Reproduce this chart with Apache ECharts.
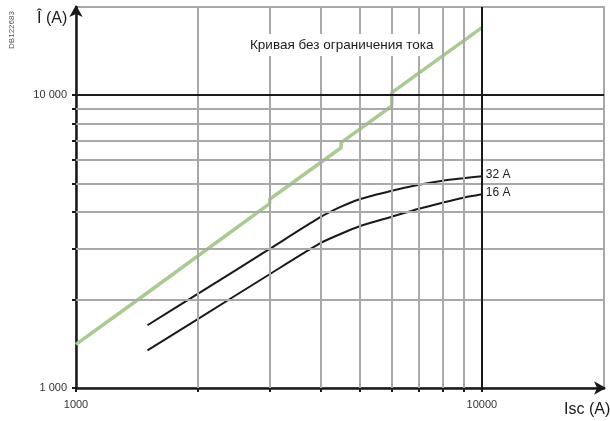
<!DOCTYPE html>
<html>
<head>
<meta charset="utf-8">
<script src="https://cdn.jsdelivr.net/npm/echarts@6/dist/echarts.min.js"></script>
<style>
html,body{margin:0;padding:0;background:#fff;}
#main{width:610px;height:421px;}
</style>
</head>
<body>
<div id="main"></div>
<script>
// ---- data ----
const tickValues = [1000, 2000, 3000, 4000, 5000, 6000, 7000, 8000, 9000, 10000];
const minorGrid = [2000, 3000, 4000, 5000, 6000, 7000, 8000, 9000];
const majorGrid = [10000];
const xLabelValues = [1000, 10000];
const yLabelValues = [1000, 10000];
const yLabelText = {1000: '1 000', 10000: '10 000'};

const unlimitedIsc  = [1000, 1500, 1500, 3000, 3000, 4500, 4500, 6000, 6000, 10000];
const unlimitedPeak = [1410, 2115, 2130, 4260, 4410, 6615, 6885, 9180, 10200, 17000];

const iscPoints = [1500, 2000, 3000, 4000, 4500, 5000, 6000, 7000, 8000, 9000, 10000];
const peak32 = [1638, 2100, 2985, 3830, 4160, 4413, 4718, 4947, 5104, 5205, 5288];
const peak16 = [1345, 1723, 2446, 3122, 3364, 3568, 3845, 4095, 4294, 4466, 4589];

const curveTitle = 'Кривая без ограничения тока';
const font = '"Liberation Sans", Arial, sans-serif';

const zip = (a, b) => a.map((v, i) => [v, b[i]]);

const chart = echarts.init(document.getElementById('main'));

const gridLines = [];
minorGrid.forEach(v => {
  gridLines.push({xAxis: v, lineStyle: {color: '#a9a9a9', width: 2, type: 'solid'}});
  gridLines.push({yAxis: v, lineStyle: {color: '#a9a9a9', width: 2, type: 'solid'}});
});
majorGrid.forEach(v => {
  gridLines.push({xAxis: v, lineStyle: {color: '#1a1a1a', width: 2, type: 'solid'}});
  gridLines.push({yAxis: v, lineStyle: {color: '#1a1a1a', width: 2, type: 'solid'}});
});

const axisCommon = {
  type: 'log',
  logBase: 10,
  min: 1000,
  max: 20000,
  splitLine: {show: false},
  minorSplitLine: {show: false},
  axisLine: {
    show: true,
    lineStyle: {color: '#1a1a1a', width: 2.5},
    symbol: ['none', 'arrow'],
    symbolSize: [10, 12],
    symbolOffset: [0, 2]
  },
  axisTick: {
    show: true,
    customValues: tickValues,
    length: 4,
    lineStyle: {color: '#1a1a1a', width: 2}
  }
};

chart.setOption({
  animation: false,
  backgroundColor: '#fff',
  grid: {
    left: 76, right: 6, top: 7, bottom: 33,
    show: true, borderColor: '#a9a9a9', borderWidth: 2, backgroundColor: 'transparent'
  },
  xAxis: Object.assign({}, axisCommon, {
    axisLabel: {
      customValues: xLabelValues,
      formatter: v => String(v),
      color: '#333', fontSize: 11, fontFamily: font, margin: 11
    }
  }),
  yAxis: Object.assign({}, axisCommon, {
    axisLabel: {
      customValues: yLabelValues,
      formatter: v => yLabelText[v] || String(v),
      color: '#333', fontSize: 11, fontFamily: font, margin: 9
    }
  }),
  series: [
    {
      name: 'grid',
      type: 'line',
      data: [],
      z: 1,
      silent: true,
      markLine: {
        silent: true,
        symbol: ['none', 'none'],
        label: {show: false},
        animation: false,
        data: gridLines
      }
    },
    {
      name: curveTitle,
      type: 'line',
      z: 3,
      data: zip(unlimitedIsc, unlimitedPeak),
      showSymbol: false,
      lineStyle: {color: '#a6cc8f', width: 3.5},
      clip: false
    },
    {
      name: '32 A',
      type: 'line',
      z: 3,
      data: zip(iscPoints, peak32),
      showSymbol: false,
      smooth: 0.25,
      lineStyle: {color: '#1a1a1a', width: 2},
      endLabel: {show: true, formatter: '{a}', color: '#222', fontSize: 12, fontFamily: font, distance: 4, offset: [0, -2]}
    },
    {
      name: '16 A',
      type: 'line',
      z: 3,
      data: zip(iscPoints, peak16),
      showSymbol: false,
      smooth: 0.25,
      lineStyle: {color: '#1a1a1a', width: 2},
      endLabel: {show: true, formatter: '{a}', color: '#222', fontSize: 12, fontFamily: font, distance: 4, offset: [0, -2]}
    }
  ],
  graphic: [
    {
      type: 'text', left: 248, top: 34, z: 50,
      style: {text: curveTitle, fill: '#1a1a1a', font: '13.5px ' + font, backgroundColor: '#fff', padding: [4, 2, 4, 2]}
    },
    {
      type: 'text', left: 37, top: 11, z: 50,
      style: {text: 'Î (A)', fill: '#1a1a1a', font: '16px ' + font}
    },
    {
      type: 'text', left: 564, top: 402, z: 50,
      style: {text: 'Isc (A)', fill: '#1a1a1a', font: '16px ' + font}
    },
    {
      type: 'text', x: 12, y: 30, rotation: Math.PI / 2, z: 50,
      style: {text: 'DB122683', fill: '#555', font: '8px ' + font, align: 'center', verticalAlign: 'middle'}
    }
  ]
});
</script>
</body>
</html>
